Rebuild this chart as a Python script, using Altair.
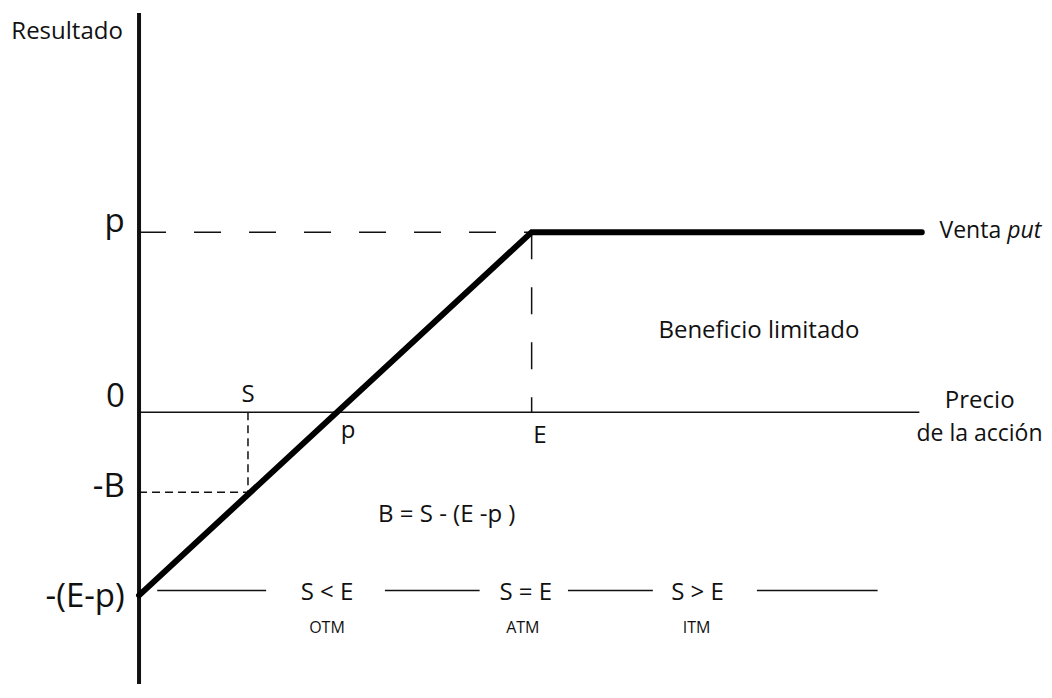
import altair as alt
import pandas as pd

# ---- plot frame (data units) ----
X_MIN, X_MAX = -2.67, 18.44
Y_MIN, Y_MAX = -6.04, 8.98
Y_AXIS_TOP = 8.87
X_AXIS_END = 15.9

# ---- payoff of the short put ----
price = [0.0, 8.0, 15.95]
result = [-4.07, 4.0, 4.0]

# ---- reference levels ----
E_VAL = 8.0
P_VAL = 4.0
S_VAL = 2.22
MINUS_B = -1.78
ROW_Y = -3.96

# ---- bottom row separator segments ----
seg_start = [0.37, 5.01, 8.74, 12.59]
seg_end = [2.59, 6.94, 10.47, 15.05]

# ---- text groups ----
big_labels = ["p", "0", "-B", "-(E-p)"]
big_x = [-0.29, -0.29, -0.29, -0.29]
big_y = [4.0, 0.11, -1.89, -4.33]

mid_labels = ["Resultado"]
mid_x = [-0.33]
mid_y = [8.29]

pt_labels = ["S", "p", "E", "Beneficio limitado", "Precio",
             "B = S - (E -p )", "S < E", "S = E", "S > E"]
pt_x = [2.22, 4.26, 8.17, 12.63, 17.13, 6.27, 3.83, 7.88, 11.38]
pt_y = [0.22, -0.58, -0.69, 1.64, 0.09, -2.44, -4.18, -4.18, -4.18]

edge_labels = ["de la acción"]
edge_x = [18.41]
edge_y = [-0.64]

small_labels = ["OTM", "ATM", "ITM"]
small_x = [3.83, 7.82, 11.36]
small_y = [-4.91, -4.91, -4.91]

venta_label = ["Venta"]
venta_x = [16.31]
venta_y = [3.87]
put_label = ["put"]
put_x = [17.69]
put_y = [3.87]

FONT = "Open Sans"
INK = "#111111"

xs = alt.Scale(domain=[X_MIN, X_MAX], nice=False, zero=False)
ys = alt.Scale(domain=[Y_MIN, Y_MAX], nice=False, zero=False)


def X(f="x"):
    return alt.X(f"{f}:Q", scale=xs, axis=None)


def Y(f="y"):
    return alt.Y(f"{f}:Q", scale=ys, axis=None)


# vertical axis
vaxis = alt.Chart(pd.DataFrame({"x": [0.0], "y": [Y_MIN], "y2": [Y_AXIS_TOP]})).mark_rule(
    color=INK, strokeWidth=4
).encode(x=X(), y=Y(), y2="y2:Q")

# horizontal zero axis
haxis = alt.Chart(pd.DataFrame({"x": [0.0], "x2": [X_AXIS_END], "y": [0.0]})).mark_rule(
    color=INK, strokeWidth=1.5
).encode(x=X(), x2="x2:Q", y=Y())

# dashed p level
p_dash = alt.Chart(pd.DataFrame({"x": [0.0], "x2": [E_VAL], "y": [P_VAL]})).mark_rule(
    color=INK, strokeWidth=1.5, strokeDash=[27, 28]
).encode(x=X(), x2="x2:Q", y=Y())

# dashed E vertical
e_dash = alt.Chart(pd.DataFrame({"x": [E_VAL], "y": [P_VAL], "y2": [0.0]})).mark_rule(
    color=INK, strokeWidth=1.5, strokeDash=[27, 28]
).encode(x=X(), y=Y(), y2="y2:Q")

# dotted S lines
s_vert = alt.Chart(pd.DataFrame({"x": [S_VAL], "y": [0.0], "y2": [MINUS_B]})).mark_rule(
    color=INK, strokeWidth=1.5, strokeDash=[8, 5]
).encode(x=X(), y=Y(), y2="y2:Q")
s_horz = alt.Chart(pd.DataFrame({"x": [0.0], "x2": [S_VAL], "y": [MINUS_B]})).mark_rule(
    color=INK, strokeWidth=1.5, strokeDash=[8, 5]
).encode(x=X(), x2="x2:Q", y=Y())

# bottom row segments
segs = alt.Chart(pd.DataFrame({"x": seg_start, "x2": seg_end, "y": [ROW_Y] * len(seg_start)})).mark_rule(
    color=INK, strokeWidth=1.5
).encode(x=X(), x2="x2:Q", y=Y())

# payoff line
payoff = alt.Chart(pd.DataFrame({"x": price, "y": result, "o": list(range(len(price)))})).mark_line(
    color="#000000", strokeWidth=6, strokeCap="round", strokeJoin="miter"
).encode(x=X(), y=Y(), order="o:O")


def texts(labels, xv, yv, size, align, style="normal"):
    return alt.Chart(pd.DataFrame({"x": xv, "y": yv, "t": labels})).mark_text(
        font=FONT, fontSize=size, align=align, baseline="alphabetic", color=INK, fontStyle=style
    ).encode(x=X(), y=Y(), text="t:N")


t_big = texts(big_labels, big_x, big_y, 33, "right")
t_mid = texts(mid_labels, mid_x, mid_y, 24, "right")
t_pt = texts(pt_labels, pt_x, pt_y, 24, "center")
t_edge = texts(edge_labels, edge_x, edge_y, 23, "right")
t_small = texts(small_labels, small_x, small_y, 16, "center")
t_venta = texts(venta_label, venta_x, venta_y, 23, "left")
t_put = texts(put_label, put_x, put_y, 23, "left", "italic")

chart = alt.layer(
    vaxis, haxis, p_dash, e_dash, s_vert, s_horz, segs, payoff,
    t_big, t_mid, t_pt, t_edge, t_small, t_venta, t_put
).properties(
    width=1036, height=676, padding=0, autosize=alt.AutoSizeParams(type="none")
).configure_view(stroke=None)

chart.save("out.html", embed_options={"renderer": "svg", "actions": False})
